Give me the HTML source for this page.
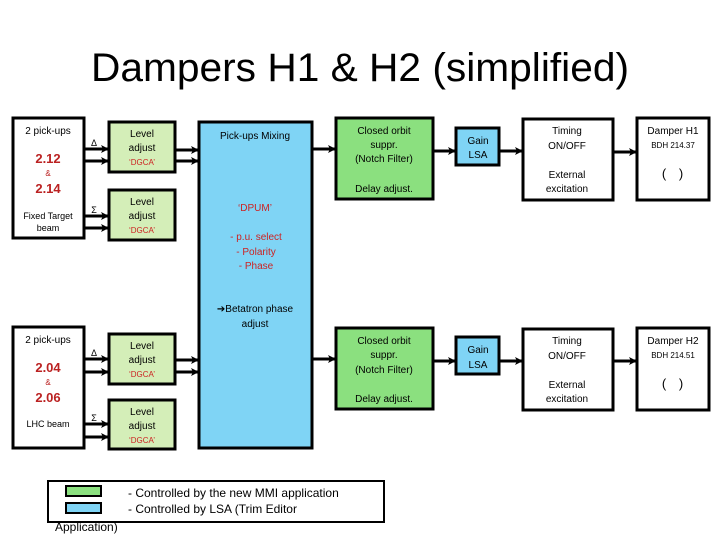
<!DOCTYPE html><html><head><meta charset="utf-8"><style>body{margin:0;background:#fff}svg{display:block}text{font-family:"Liberation Sans",sans-serif}</style></head><body>
<svg width="720" height="540" viewBox="0 0 720 540" xmlns="http://www.w3.org/2000/svg">
<defs><marker id="a" markerWidth="8" markerHeight="8" refX="7" refY="4" orient="auto" markerUnits="userSpaceOnUse"><path d="M0,0 L8,4 L0,8 L2,4 z" fill="#000"/></marker></defs>
<text x="360" y="81" font-size="40" text-anchor="middle" textLength="538" lengthAdjust="spacingAndGlyphs">Dampers  H1 &amp; H2 (simplified)</text>
<g stroke="#000" stroke-width="3">
<rect x="13" y="118" width="71" height="120" fill="#fff"/>
<rect x="109" y="122" width="66" height="50" fill="#d4eeb8"/>
<rect x="109" y="190" width="66" height="50" fill="#d4eeb8"/>
<rect x="199" y="122" width="113" height="326" fill="#7fd4f5"/>
<rect x="336" y="118" width="97" height="81" fill="#8be07f"/>
<rect x="456" y="128" width="43" height="37" fill="#7fd4f5"/>
<rect x="523" y="119" width="90" height="81" fill="#fff"/>
<rect x="637" y="118" width="72" height="82" fill="#fff"/>
<rect x="13" y="327" width="71" height="121" fill="#fff"/>
<rect x="109" y="334" width="66" height="50" fill="#d4eeb8"/>
<rect x="109" y="400" width="66" height="49" fill="#d4eeb8"/>
<rect x="336" y="328" width="97" height="81" fill="#8be07f"/>
<rect x="456" y="337" width="43" height="37" fill="#7fd4f5"/>
<rect x="523" y="329" width="90" height="81" fill="#fff"/>
<rect x="637" y="328" width="72" height="82" fill="#fff"/>
<rect x="48" y="481" width="336" height="41" fill="#fff" stroke-width="2"/>
<rect x="66" y="486" width="35" height="10" fill="#8be07f" stroke-width="2"/>
<rect x="66" y="503" width="35" height="10" fill="#7fd4f5" stroke-width="2"/>
</g>
<g stroke="#000" stroke-width="3" marker-end="url(#a)">
<line x1="85" y1="149" x2="108" y2="149"/><line x1="85" y1="161" x2="108" y2="161"/>
<line x1="85" y1="216" x2="108" y2="216"/><line x1="85" y1="228" x2="108" y2="228"/>
<line x1="176" y1="150" x2="198" y2="150"/><line x1="176" y1="161" x2="198" y2="161"/>
<line x1="313" y1="149" x2="335" y2="149"/><line x1="434" y1="151" x2="455" y2="151"/>
<line x1="500" y1="151" x2="522" y2="151"/><line x1="614" y1="152" x2="636" y2="152"/>
<line x1="85" y1="359" x2="108" y2="359"/><line x1="85" y1="372" x2="108" y2="372"/>
<line x1="85" y1="424" x2="108" y2="424"/><line x1="85" y1="437" x2="108" y2="437"/>
<line x1="176" y1="360" x2="198" y2="360"/><line x1="176" y1="372" x2="198" y2="372"/>
<line x1="313" y1="359" x2="335" y2="359"/><line x1="434" y1="361" x2="455" y2="361"/>
<line x1="500" y1="361" x2="522" y2="361"/><line x1="614" y1="361" x2="636" y2="361"/>
</g>
<g font-size="9" text-anchor="middle">
<text x="94" y="146">Δ</text><text x="94" y="213">Σ</text><text x="94" y="356">Δ</text><text x="94" y="421">Σ</text>
</g>
<g font-size="10" text-anchor="middle">
<text x="48" y="134">2 pick-ups</text>
<text x="48" y="163" font-size="13" font-weight="bold" fill="#b22">2.12</text>
<text x="48" y="176" font-size="8" fill="#b22">&amp;</text>
<text x="48" y="193" font-size="13" font-weight="bold" fill="#b22">2.14</text>
<text x="48" y="219" font-size="9">Fixed Target</text><text x="48" y="231" font-size="9">beam</text>
<text x="142" y="137">Level</text><text x="142" y="151">adjust</text><text x="142" y="165" font-size="8" fill="#c22">‘DGCA’</text>
<text x="142" y="205">Level</text><text x="142" y="219">adjust</text><text x="142" y="233" font-size="8" fill="#c22">‘DGCA’</text>
<text x="255" y="139">Pick-ups Mixing</text>
<text x="255" y="211" fill="#c22">‘DPUM’</text>
<text x="256" y="240" fill="#c22">-  p.u. select</text><text x="256" y="255" fill="#c22">-  Polarity</text><text x="256" y="269" fill="#c22">- Phase</text>
<text x="255" y="312">➔Betatron phase</text><text x="255" y="327">adjust</text>
<text x="384" y="134">Closed orbit</text><text x="384" y="148">suppr.</text><text x="384" y="162">(Notch Filter)</text><text x="384" y="192">Delay adjust.</text>
<text x="478" y="144">Gain</text><text x="478" y="158">LSA</text>
<text x="567" y="134">Timing</text><text x="567" y="149">ON/OFF</text><text x="567" y="178">External</text><text x="567" y="192">excitation</text>
<text x="673" y="134">Damper H1</text><text x="673" y="148" font-size="8">BDH 214.37</text>
<text x="664" y="178" font-size="13">(</text><text x="681" y="178" font-size="13">)</text>
<text x="48" y="343">2 pick-ups</text>
<text x="48" y="372" font-size="13" font-weight="bold" fill="#b22">2.04</text>
<text x="48" y="385" font-size="8" fill="#b22">&amp;</text>
<text x="48" y="402" font-size="13" font-weight="bold" fill="#b22">2.06</text>
<text x="48" y="427" font-size="9">LHC beam</text>
<text x="142" y="349">Level</text><text x="142" y="363">adjust</text><text x="142" y="377" font-size="8" fill="#c22">‘DGCA’</text>
<text x="142" y="415">Level</text><text x="142" y="429">adjust</text><text x="142" y="443" font-size="8" fill="#c22">‘DGCA’</text>
<text x="384" y="344">Closed orbit</text><text x="384" y="358">suppr.</text><text x="384" y="373">(Notch Filter)</text><text x="384" y="402">Delay adjust.</text>
<text x="478" y="353">Gain</text><text x="478" y="368">LSA</text>
<text x="567" y="344">Timing</text><text x="567" y="359">ON/OFF</text><text x="567" y="388">External</text><text x="567" y="402">excitation</text>
<text x="673" y="344">Damper H2</text><text x="673" y="358" font-size="8">BDH 214.51</text>
<text x="664" y="388" font-size="13">(</text><text x="681" y="388" font-size="13">)</text>
</g>
<g font-size="12">
<text x="128" y="497">- Controlled by the new MMI application</text>
<text x="128" y="513">- Controlled by LSA (Trim Editor</text>
<text x="55" y="531">Application)</text>
</g>
</svg></body></html>
